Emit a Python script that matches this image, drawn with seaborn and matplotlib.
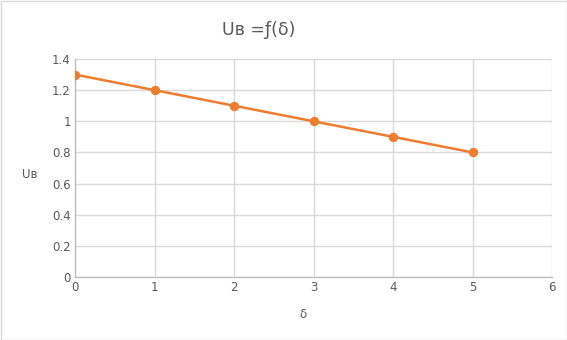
import matplotlib
matplotlib.use("Agg")
import matplotlib.pyplot as plt
import seaborn as sns
import pandas as pd

delta = [0, 1, 2, 3, 4, 5]
u_v = [1.3, 1.2, 1.1, 1.0, 0.9, 0.8]
x_ticks = [0, 1, 2, 3, 4, 5, 6]
y_ticks = [0, 0.2, 0.4, 0.6, 0.8, 1, 1.2, 1.4]
y_labels = ["0", "0.2", "0.4", "0.6", "0.8", "1", "1.2", "1.4"]

sns.set_style("white")
plt.rcParams['font.family'] = ['DejaVu Sans']

df = pd.DataFrame({"delta": delta, "u": u_v})

fig = plt.figure(figsize=(5.67, 3.40), dpi=100)
ax = fig.add_axes([75/567, 63/340, 477/567, 218/340])

txt = "#595959"
grid = "#D9D9D9"
orange = "#ED7D31"

ax.set_xlim(0, 6)
ax.set_ylim(0, 1.4)
ax.set_xticks(x_ticks)
ax.set_yticks(y_ticks)
ax.set_yticklabels(y_labels)
ax.grid(True, color=grid, linewidth=1)
ax.set_axisbelow(True)

sns.lineplot(data=df, x="delta", y="u", ax=ax, color=orange, linewidth=1.8,
             marker="o", markersize=6, markeredgecolor=orange, zorder=3)

for s in ["top", "right"]:
    ax.spines[s].set_visible(False)
for s in ["left", "bottom"]:
    ax.spines[s].set_color("#BFBFBF")
    ax.spines[s].set_linewidth(1)

ax.tick_params(axis="both", colors=txt, labelsize=8.5, length=0, pad=3)
ax.set_xlabel("δ", color=txt, fontsize=8.5)
ax.xaxis.set_label_coords((303 - 75) / 477, -0.14)
ax.set_ylabel("Uв", color=txt, fontsize=8.5, rotation=0, va="center")
ax.yaxis.set_label_coords(-0.095, 0.47)

fig.suptitle("Uв =ƒ(δ)", x=259/567, y=1 - 30/340, va="center", color=txt, fontsize=12.5)

border = plt.Rectangle((0.5/567, 0.5/340), 1 - 1/567, 1 - 1/340, transform=fig.transFigure,
                       fill=False, edgecolor="#D9D9D9", linewidth=1)
fig.patches.append(border)

fig.savefig("out.png", dpi=100)
